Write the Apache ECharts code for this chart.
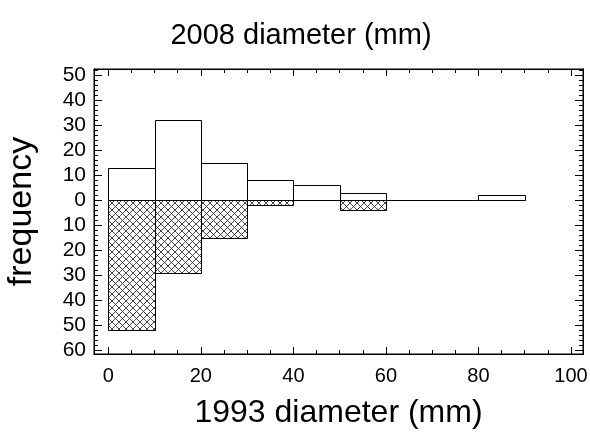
<!DOCTYPE html>
<html>
<head>
<meta charset="utf-8">
<script src="https://cdn.jsdelivr.net/npm/echarts@6/dist/echarts.min.js"></script>
<style>html,body{margin:0;padding:0;background:#fff}#c{width:590px;height:438px}</style>
</head>
<body>
<div id="c"></div>
<script>
// Data (histogram bins, 10 mm wide)
const binStarts = [0, 10, 20, 30, 40, 50, 60, 70, 80];
const binWidth = 10;
const freq2008 = [13, 32, 15, 8, 6, 3, 0, 0, 2];     // upper, open bars
const freq1993 = [52, 29, 15, 2, 0, 4, 0, 0, 0];     // lower, hatched bars
const xTickLabels = [0, 20, 40, 60, 80, 100];
const yTickLabels = [-60, -50, -40, -30, -20, -10, 0, 10, 20, 30, 40, 50];

const titleText = '2008 diameter (mm)';
const xName = '1993 diameter (mm)';
const yName = 'frequency';

const xMinor = [];
for (let v = 0; v <= 100; v += 5) xMinor.push(v);
const yMinor = [];
for (let v = -60; v <= 52; v += 2) yMinor.push(v);

// hatch pattern
const P = 7;
const pc = document.createElement('canvas');
pc.width = P; pc.height = P;
const g = pc.getContext('2d');
g.fillStyle = '#fff'; g.fillRect(0, 0, P, P);
g.strokeStyle = '#333'; g.lineWidth = 0.9;
g.beginPath();
g.moveTo(0, 0); g.lineTo(P, P);
g.moveTo(P, 0); g.lineTo(0, P);
g.stroke();
const hatch = { image: pc, repeat: 'repeat' };

const upperData = binStarts.map((s, i) => [s, s + binWidth, freq2008[i]]);
const lowerData = binStarts.map((s, i) => [s, s + binWidth, -freq1993[i]]);

function renderBar(fill) {
  return function (params, api) {
    const x0 = api.value(0), x1 = api.value(1), y = api.value(2);
    const p0 = api.coord([x0, 0]);
    const p1 = api.coord([x1, y]);
    const top = Math.round(Math.min(p0[1], p1[1])) + 0.5;
    const bot = Math.round(Math.max(p0[1], p1[1])) + 0.5;
    const l = Math.round(p0[0]) + 0.5, r = Math.round(p1[0]) + 0.5;
    return {
      type: 'rect',
      shape: { x: l, y: top, width: r - l, height: bot - top },
      style: { fill: fill, stroke: '#000', lineWidth: 1 }
    };
  };
}

const FONT = 'Liberation Sans, Arial, sans-serif';
const xMin = -3.1, xMax = 102.6, yMin = -61.6, yMax = 52.4;

function xAx(pos, values, len, labels, extra) {
  return Object.assign({
    type: 'value', position: pos, min: xMin, max: xMax,
    axisLine: { show: true, onZero: false, lineStyle: { color: '#000', width: 1 } },
    axisTick: { show: true, inside: true, length: len, customValues: values, lineStyle: { color: '#000', width: 1 } },
    axisLabel: labels ? { show: true, customValues: xTickLabels, fontSize: 20, color: '#000', fontFamily: FONT, margin: 12 } : { show: false },
    splitLine: { show: false }
  }, extra || {});
}
function yAx(pos, values, len, labels, extra) {
  return Object.assign({
    type: 'value', position: pos, min: yMin, max: yMax,
    axisLine: { show: true, onZero: false, lineStyle: { color: '#000', width: 1 } },
    axisTick: { show: true, inside: true, length: len, customValues: values, lineStyle: { color: '#000', width: 1 } },
    axisLabel: labels ? { show: true, customValues: yTickLabels, fontSize: 21, color: '#000', fontFamily: FONT, margin: 8, formatter: v => String(Math.abs(v)) } : { show: false },
    splitLine: { show: false }
  }, extra || {});
}

const chart = echarts.init(document.getElementById('c'), null, { renderer: 'canvas' });
chart.setOption({
  animation: false,
  backgroundColor: '#fff',
  title: {
    text: titleText, left: 296, top: 16, textAlign: 'center',
    textStyle: { fontSize: 29, fontWeight: 'normal', color: '#000', fontFamily: FONT }
  },
  grid: { left: 94, right: 7, top: 69, bottom: 84, show: true, borderColor: '#000', borderWidth: 1, backgroundColor: 'transparent', containLabel: false, outerBoundsMode: 'none' },
  xAxis: [
    xAx('bottom', xTickLabels, 7, true, {
      name: xName, nameLocation: 'middle', nameGap: 43,
      nameTextStyle: { fontSize: 32, color: '#000', fontFamily: FONT }
    }),
    xAx('bottom', xMinor, 4, false),
    xAx('top', xTickLabels, 7, false),
    xAx('top', xMinor, 4, false)
  ],
  yAxis: [
    yAx('left', yTickLabels, 8, true, {
      name: yName, nameLocation: 'middle', nameGap: 55,
      nameTextStyle: { fontSize: 34, color: '#000', fontFamily: FONT }
    }),
    yAx('left', yMinor, 4, false),
    yAx('right', yTickLabels, 8, false),
    yAx('right', yMinor, 4, false)
  ],
  series: [
    { type: 'custom', name: '1993', xAxisIndex: 0, yAxisIndex: 0, data: lowerData, renderItem: renderBar(hatch), z: 2 },
    { type: 'custom', name: '2008', xAxisIndex: 0, yAxisIndex: 0, data: upperData, renderItem: renderBar('#fff'), z: 3 }
  ]
});
</script>
</body>
</html>
